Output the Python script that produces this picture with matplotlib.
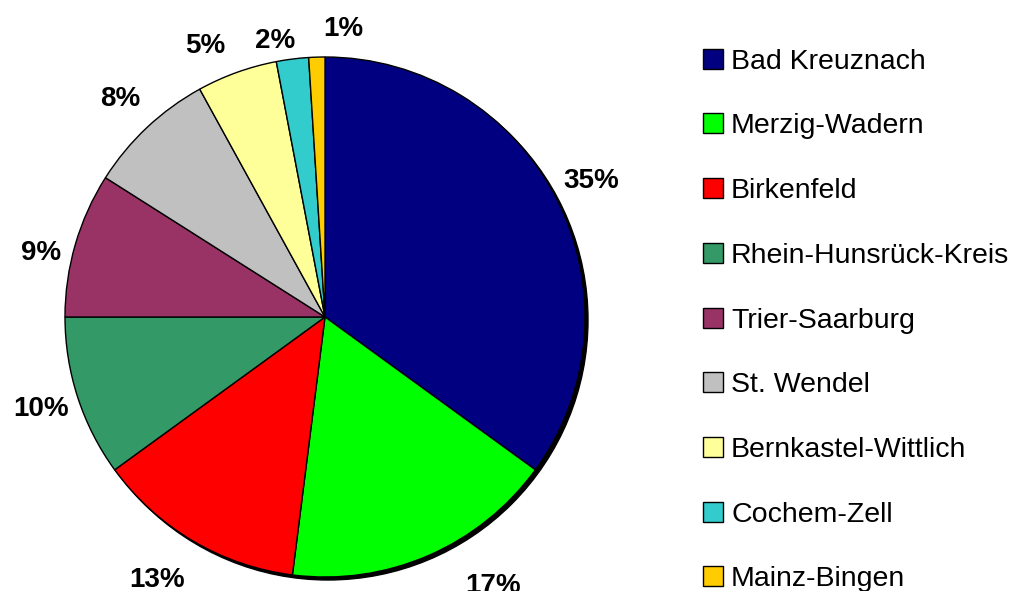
import matplotlib.pyplot as plt
from matplotlib.patches import Circle
import numpy as np

plt.rcParams['font.family'] = ['Liberation Sans', 'DejaVu Sans']

districts = ['Bad Kreuznach', 'Merzig-Wadern', 'Birkenfeld', 'Rhein-Hunsrück-Kreis',
             'Trier-Saarburg', 'St. Wendel', 'Bernkastel-Wittlich', 'Cochem-Zell',
             'Mainz-Bingen']
shares = [35, 17, 13, 10, 9, 8, 5, 2, 1]
colors = ['#000080', '#00FF00', '#FF0000', '#339966', '#993366',
          '#C0C0C0', '#FFFF99', '#33CCCC', '#FFCC00']

W, H = 1015, 591
fig = plt.figure(figsize=(W / 100, H / 100), dpi=100)
ax = fig.add_axes([0, 0, 1, 1])

cx, cy, r = 325, 274, 260

# shadow disc behind the pie
ax.add_patch(Circle((cx + 3, cy - 3), r, color='black', zorder=0))

wedges, _ = ax.pie(shares, colors=colors, startangle=90, counterclock=False,
                   center=(cx, cy), radius=r,
                   wedgeprops=dict(edgecolor='black', linewidth=1.0))

# label nudges (angle shift in degrees, distance factor) like the Excel layout
nudge = {17: (8.5, 1.22), 13: (-2, 1.2), 9: (3.5, 1.12), 5: (4, 1.14),
         2: (3, 1.08), 1: (-5.5, 1.11)}

for w, v in zip(wedges, shares):
    dang, d = nudge.get(v, (0, 1.15))
    ang = np.deg2rad((w.theta1 + w.theta2) / 2 + dang)
    ax.text(cx + d * r * np.cos(ang), cy + d * r * np.sin(ang), f'{v}%',
            ha='center', va='center', fontsize=20, fontweight='bold')

ax.set_xlim(0, W)
ax.set_ylim(0, H)
ax.set_aspect('equal')
ax.axis('off')

fig.legend(wedges, districts, loc='upper left', bbox_to_anchor=(0.681, 0.937),
           frameon=False, fontsize=20.5, handlelength=0.7, handleheight=0.7,
           handletextpad=0.3, labelspacing=1.36, borderaxespad=0)

fig.savefig('out.png', dpi=100)
